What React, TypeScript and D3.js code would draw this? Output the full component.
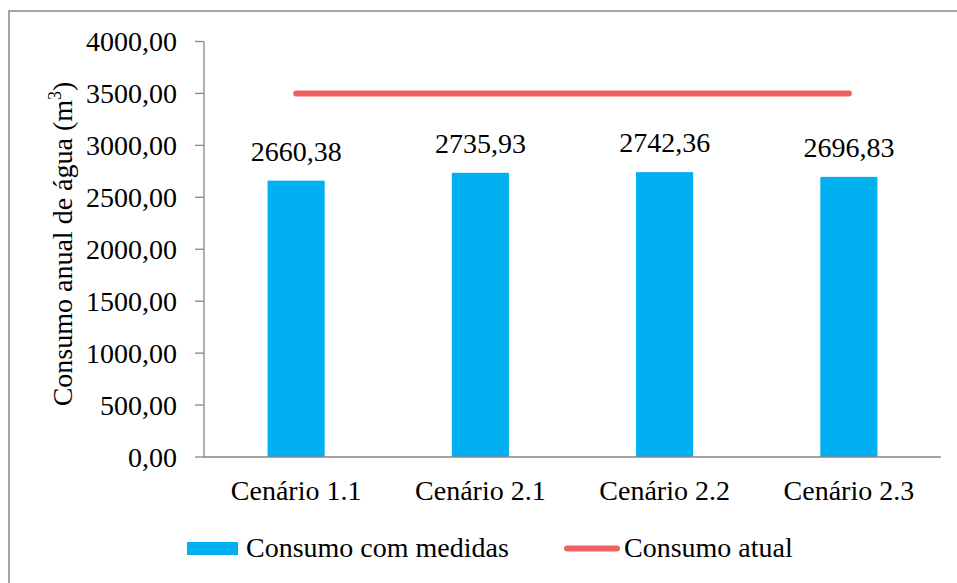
import React from 'react';
import * as d3 from 'd3';

const categories = ['Cenário 1.1', 'Cenário 2.1', 'Cenário 2.2', 'Cenário 2.3'];
const consumoComMedidas = [2660.38, 2735.93, 2742.36, 2696.83];
const consumoAtual = [3500, 3500, 3500, 3500];
const yTicks = [0, 500, 1000, 1500, 2000, 2500, 3000, 3500, 4000];

const W = 957;
const H = 583;
const FONT = "'Liberation Serif', 'Times New Roman', Tinos, 'DejaVu Serif', serif";
const BLUE = '#00B0F0';
const RED = '#F06262';
const FS = 28;

const fmt = (v: number) => v.toFixed(2).replace('.', ',');

export default function App() {
  // scales
  const y = d3.scaleLinear().domain([0, 4000]).range([457, 41.5]);
  const x = d3
    .scaleBand<string>()
    .domain(categories)
    .range([204, 941])
    .paddingInner(0.69)
    .paddingOuter(0.345);

  const line = d3
    .line<number>()
    .x((_, i) => (x(categories[i]) as number) + x.bandwidth() / 2)
    .y((d) => y(d));

  return (
    <svg
      width={W}
      height={H}
      style={{ position: 'absolute', left: 0, top: 0, background: '#fff', fontFamily: FONT }}
    >
      {/* outer border */}
      <rect x={9} y={11} width={W} height={H} fill="#fff" stroke="#A6A6A6" strokeWidth={2} />

      {/* y axis */}
      <line x1={204} x2={204} y1={y(4000)} y2={y(0)} stroke="#868686" strokeWidth={1.3} />
      {yTicks.map((t) => (
        <g key={t}>
          <line x1={195} x2={204} y1={y(t)} y2={y(t)} stroke="#868686" strokeWidth={1.3} />
          <text x={177} y={y(t)} dy="0.34em" textAnchor="end" fontSize={FS} fill="#000">
            {fmt(t)}
          </text>
        </g>
      ))}

      {/* y title */}
      <text
        transform={`translate(72, 244) rotate(-90)`}
        textAnchor="middle"
        fontSize={FS}
        fill="#000"
      >
        Consumo anual de água (m
        <tspan fontSize={18} dy={-11}>3</tspan>
        <tspan dy={11}>)</tspan>
      </text>

      {/* bars */}
      {categories.map((c, i) => (
        <g key={c}>
          <rect
            x={x(c)}
            y={y(consumoComMedidas[i])}
            width={x.bandwidth()}
            height={y(0) - y(consumoComMedidas[i])}
            fill={BLUE}
          />
          <text
            x={(x(c) as number) + x.bandwidth() / 2}
            y={y(consumoComMedidas[i]) - 20}
            textAnchor="middle"
            fontSize={FS}
            fill="#000"
          >
            {fmt(consumoComMedidas[i])}
          </text>
          <text
            x={(x(c) as number) + x.bandwidth() / 2}
            y={500}
            textAnchor="middle"
            fontSize={FS}
            fill="#000"
          >
            {c}
          </text>
        </g>
      ))}

      {/* x axis */}
      <line x1={204} x2={941} y1={y(0)} y2={y(0)} stroke="#868686" strokeWidth={1.3} />

      {/* line series */}
      <path d={line(consumoAtual) as string} fill="none" stroke={RED} strokeWidth={6} strokeLinecap="round" />

      {/* legend */}
      <rect x={187} y={542} width={51} height={13} fill={BLUE} />
      <text x={246} y={557} fontSize={FS} fill="#000">Consumo com medidas</text>
      <line x1={567} x2={617} y1={548.5} y2={548.5} stroke={RED} strokeWidth={6} strokeLinecap="round" />
      <text x={624} y={557} fontSize={FS} fill="#000">Consumo atual</text>
    </svg>
  );
}
